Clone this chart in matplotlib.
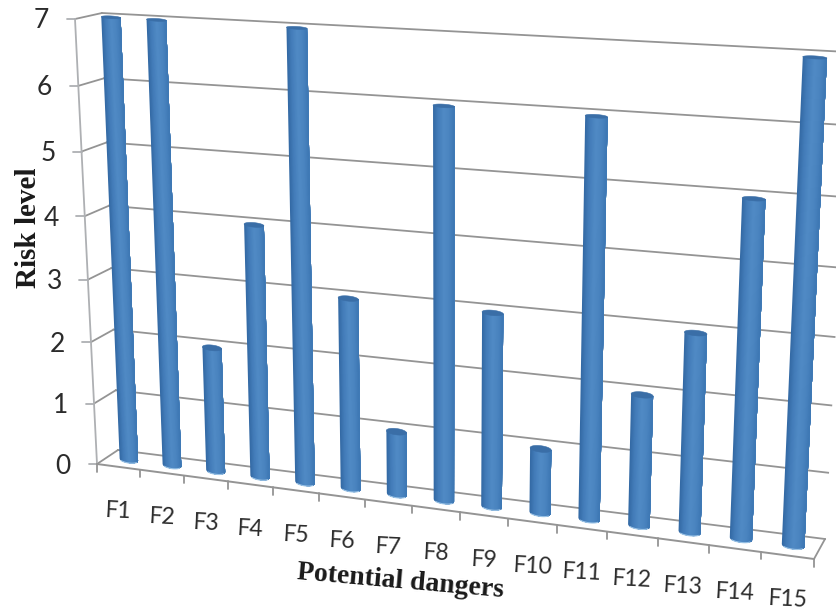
import matplotlib
matplotlib.use("Agg")
import matplotlib.pyplot as plt
import matplotlib.transforms as mtransforms
import numpy as np

categories = ["F1", "F2", "F3", "F4", "F5", "F6", "F7", "F8",
              "F9", "F10", "F11", "F12", "F13", "F14", "F15"]
risk_levels = [7, 7, 2, 4, 7, 3, 1, 6, 3, 1, 6, 2, 3, 5, 7]
y_ticks = [0, 1, 2, 3, 4, 5, 6, 7]

# pixel corners of the 3D box: (x=0,v=0), (x=15,v=0), (x=15,v=7), (x=0,v=7)
FRONT_CORNERS = [(97, 464), (814, 559), (838, 66), (75, 19)]
BACK_CORNERS = [(118, 450), (825, 539), (848, 52), (102, 13)]
DATA_CORNERS = [(0, 0), (15, 0), (15, 7), (0, 7)]

GRID = "#949494"
AXIS = "#aeb0b3"
TEXT = "#2b2b2b"
SHADE_U = [-1.0, -0.55, 0.0, 0.5, 1.0]
SHADE_RGB = np.array([[0x33, 0x68, 0xa3], [0x43, 0x7c, 0xb9], [0x50, 0x8a, 0xc5],
                      [0x4a, 0x84, 0xc0], [0x3d, 0x77, 0xb3]]) / 255


class PlaneTransform(mtransforms.Transform):
    """Perspective map from (category, value) to pixels for one plane of the box."""
    input_dims = 2
    output_dims = 2
    is_affine = False
    has_inverse = False

    def __init__(self, corners):
        super().__init__()
        rows, rhs = [], []
        for (x, y), (u, v) in zip(DATA_CORNERS, corners):
            rows.append([x, y, 1, 0, 0, 0, -u * x, -u * y])
            rows.append([0, 0, 0, x, y, 1, -v * x, -v * y])
            rhs += [u, v]
        self.h = np.append(np.linalg.solve(np.array(rows, float), np.array(rhs, float)), 1).reshape(3, 3)

    def transform_non_affine(self, values):
        values = np.asarray(values, float)
        pts = np.column_stack([values, np.ones(len(values))]) @ self.h.T
        return pts[:, :2] / pts[:, 2:]


front = PlaneTransform(FRONT_CORNERS)
back = PlaneTransform(BACK_CORNERS)
mid = PlaneTransform([((a[0] + b[0]) / 2, (a[1] + b[1]) / 2) for a, b in zip(FRONT_CORNERS, BACK_CORNERS)])

fig = plt.figure(figsize=(8.36, 6.10), dpi=100)
ax = fig.add_axes([0, 0, 1, 1])
ax.set_xlim(0, 836)
ax.set_ylim(610, 0)
ax.axis("off")
ax.autoscale(False)


def px(plane, x, v):
    return plane.transform(np.array([[x, v]], float))[0]


def seg(p, q, color=GRID, lw=1.3, z=1):
    ax.plot([p[0], q[0]], [p[1], q[1]], color=color, lw=lw, zorder=z, solid_capstyle="round")


# walls, floor and ticks
for v in y_ticks:
    ax.plot([0, 15], [v, v], color=GRID, lw=1.3, zorder=1, transform=back + ax.transData)
    p = px(front, 0, v)
    seg(p, px(back, 0, v))
    seg(p, p + np.array([-8.5, 0]), color=AXIS)
    ax.annotate(str(v), p, xytext=(-26, -2), textcoords="offset pixels", ha="right", va="center",
                fontsize=19, color=TEXT, family="Lato")

ax.plot([0, 0], [0, 7], color=AXIS, lw=1.3, zorder=1, transform=front + ax.transData)
ax.plot([0, 15], [0, 0], color=GRID, lw=1.4, zorder=1, transform=front + ax.transData)
seg(px(front, 15, 0), px(back, 15, 0))
for i in range(16):
    p = px(front, i, 0)
    seg(p, p + np.array([0, 7.5]))

# cylinders
mid_t = mid + ax.transData
half = 0.215
n_strips = 24
for i, val in enumerate(risk_levels):
    cx = i + 0.5
    edges = np.linspace(-1, 1, n_strips + 1)
    # depth of the round ends, expressed in value units: flatter higher up
    b0 = 0.055
    b1 = 0.055 - 0.005 * val
    # each strip runs on to the right edge and the next paints over it, so no seams show
    u_right = np.linspace(-1, 1, 49)
    for u0, u1 in zip(edges[:-1], edges[1:]):
        um = (u0 + u1) / 2
        col = [np.interp(um, SHADE_U, SHADE_RGB[:, c]) for c in range(3)]
        us = u_right[u_right >= u0]
        xs = np.concatenate([cx + half * us, [cx + half, cx + half * u0]])
        vs = np.concatenate([-b0 * np.sqrt(np.clip(1 - us ** 2, 0, 1)), [val, val]])
        ax.fill(xs, vs, facecolor=col, lw=0, zorder=3, transform=mid_t)
    th = np.linspace(0, 2 * np.pi, 60)
    ax.fill(cx + half * np.cos(th), val + b1 * np.sin(th), facecolor="#3a6ea7", edgecolor="#3a6ea7",
            lw=0.4, zorder=4, transform=mid_t)
    u = np.linspace(-0.8, 0.8, 30)
    ax.plot(cx + half * u, -b0 * np.sqrt(1 - u ** 2), color="#9cc4e6", lw=0.8, zorder=4, transform=mid_t)

    # category label sits below the front edge
    ax.annotate(categories[i], (cx, 0), xycoords=front + ax.transData, xytext=(0, -44.5),
                textcoords="offset pixels", ha="center", va="center", rotation=-3,
                fontsize=16.5, color=TEXT, family="Lato")

ax.text(28, 228, "Risk level", rotation=90, ha="center", va="center", fontsize=21,
        fontweight="bold", family="Liberation Serif", color="#1a1a1a")
ax.text(400, 582, "Potential dangers", rotation=-5, ha="center", va="center", fontsize=20,
        fontweight="bold", family="Liberation Serif", color="#1a1a1a", rotation_mode="anchor")

fig.savefig("out.png", dpi=100)
